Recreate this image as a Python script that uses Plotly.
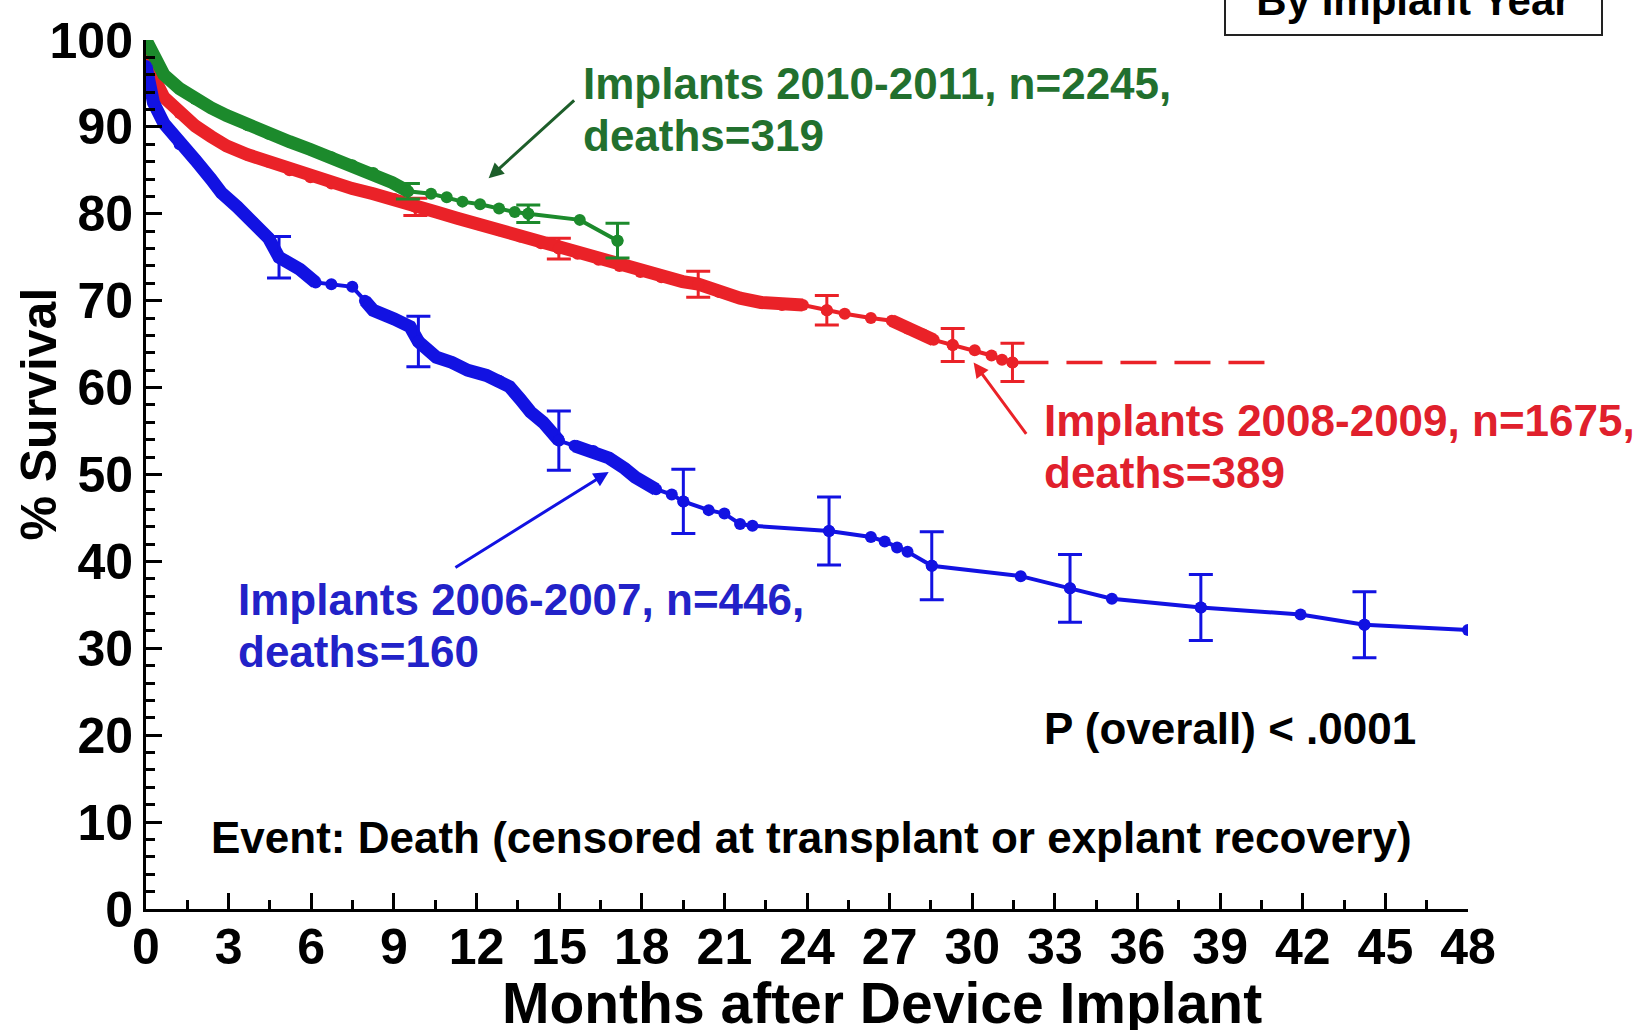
import plotly.graph_objects as go

# ---------------- data ----------------
green_t = [0, 0.27, 0.65, 1.22, 1.79, 2.36, 2.93, 3.69, 4.45, 5.21, 5.97, 6.73, 7.49, 8.25, 8.94,
           9.51, 10.35, 10.92, 11.49, 12.13, 12.82, 13.39, 13.88, 15.75, 17.12]
green_s = [100, 98.2, 96.0, 94.4, 93.2, 92.2, 91.3, 90.2, 89.2, 88.3, 87.4, 86.5, 85.6, 84.7, 83.6,
           82.6, 82.3, 81.9, 81.4, 81.1, 80.6, 80.2, 80.0, 79.3, 76.9]
green_err_t = [9.51, 13.88, 17.12]
green_err_s = [82.6, 80.0, 76.9]
green_err = [0.9, 1.0, 2.0]

red_t = [0, 0.27, 0.65, 1.22, 1.79, 2.36, 2.93, 3.69, 4.45, 5.21, 5.97, 6.73, 7.49, 8.25, 9.01,
         9.78, 10.54, 11.30, 12.06, 12.82, 13.58, 14.34, 14.99, 15.67, 16.43, 17.19, 17.95, 18.71,
         19.48, 20.05, 20.81, 21.57, 22.33, 23.09, 23.85, 24.72, 25.37, 26.32, 27.08, 27.65, 28.22,
         28.60, 29.29, 30.09, 30.70, 31.08, 31.46]
red_s = [98.5, 95.8, 93.4, 91.6, 90.1, 88.9, 87.8, 86.8, 86.0, 85.0, 84.2, 83.5, 82.9, 82.3, 81.7,
         80.8, 80.2, 79.5, 78.8, 78.1, 77.4, 76.6, 76.0, 75.4, 74.7, 74.0, 73.3, 72.7,
         72.2, 71.9, 71.0, 70.3, 69.8, 69.5, 69.5, 68.9, 68.5, 68.0, 67.7, 66.8, 66.1,
         65.5, 64.9, 64.3, 63.7, 63.2, 62.9]
red_err_t = [9.78, 14.99, 20.05, 24.72, 29.29, 31.46]
red_err_s = [80.8, 76.0, 71.9, 68.9, 64.9, 62.9]
red_err = [1.0, 1.2, 1.5, 1.7, 1.9, 2.2]
red_tail_t = [31.46, 41.16]
red_tail_s = [62.9, 62.9]

blue_t = [0, 0.27, 0.65, 1.22, 1.79, 2.36, 2.74, 3.31, 3.88, 4.45, 4.83, 5.59, 6.16, 6.73, 7.49,
          7.95, 8.25, 9.01, 9.59, 9.89, 10.54, 11.11, 11.68, 12.36, 12.82, 13.20, 13.58, 13.96,
          14.42, 14.99, 15.56, 16.24, 16.81, 17.38, 17.76, 18.52, 19.09, 19.51, 20.43, 21.00,
          21.57, 22.02, 24.80, 26.32, 26.82, 27.27, 27.65, 28.53, 31.76, 33.55, 35.07, 38.30,
          41.92, 44.24, 48.0]
blue_s = [97.0, 92.8, 90.4, 88.0, 86.2, 84.0, 82.4, 80.8, 79.0, 77.2, 75.0, 73.6, 72.1, 71.9, 71.6,
          70.0, 68.9, 67.9, 67.0, 65.3, 63.5, 62.9, 62.0, 61.4, 60.8, 60.1, 58.7, 57.2,
          56.0, 53.9, 53.3, 52.7, 51.9, 50.7, 49.7, 48.3, 47.7, 46.9, 45.9, 45.5,
          44.3, 44.1, 43.5, 42.8, 42.3, 41.6, 41.1, 39.5, 38.3, 36.9, 35.7, 34.7,
          33.9, 32.7, 32.1]
blue_err_t = [4.83, 9.89, 14.99, 19.51, 24.80, 28.53, 33.55, 38.30, 44.24]
blue_err_s = [75.0, 65.3, 53.9, 46.9, 43.5, 39.5, 36.9, 34.7, 32.7]
blue_err = [2.4, 2.9, 3.4, 3.7, 3.9, 3.9, 3.9, 3.8, 3.8]

x_ticks = list(range(0, 49, 3))
y_ticks = list(range(0, 101, 10))

green_label = ["Implants 2010-2011, n=2245,", "deaths=319"]
red_label = ["Implants 2008-2009, n=1675,", "deaths=389"]
blue_label = ["Implants 2006-2007, n=446,", "deaths=160"]
p_text = "P (overall) < .0001"
event_text = "Event: Death (censored at transplant or explant recovery)"
box_text = "By Implant Year"
x_title = "Months after Device Implant"
y_title = "% Survival"

# ---------------- styling ----------------
GREEN, GREEN_TXT = "#1c8a2c", "#22702e"
RED, RED_TXT = "#ea2228", "#e0202c"
BLUE, BLUE_TXT = "#1212e2", "#2222c8"
FONT = "Liberation Sans, Arial, Helvetica, sans-serif"
# time windows where the original curve is drawn as a dense, thick band of censor marks
GREEN_DENSE = [(0, 9.6)]
RED_DENSE = [(0, 23.9), (26.9, 28.7)]
BLUE_DENSE = [(0, 6.2), (7.9, 15.0), (15.5, 18.6)]

fig = go.Figure()


def add_series(t, s, et, es, ee, color, dense):
    fig.add_trace(go.Scatter(x=t, y=s, mode="lines+markers",
                             line=dict(color=color, width=4),
                             marker=dict(color=color, size=12),
                             showlegend=False, hoverinfo="skip"))
    for lo, hi in dense:
        seg = [(a, b) for a, b in zip(t, s) if lo <= a <= hi]
        fig.add_trace(go.Scatter(x=[p[0] for p in seg], y=[p[1] for p in seg], mode="lines",
                                 line=dict(color=color, width=13),
                                 showlegend=False, hoverinfo="skip"))
    fig.add_trace(go.Scatter(x=et, y=es, mode="markers",
                             marker=dict(color=color, size=12),
                             error_y=dict(type="data", array=ee, visible=True,
                                          color=color, thickness=3, width=12),
                             showlegend=False, hoverinfo="skip"))


add_series(red_t, red_s, red_err_t, red_err_s, red_err, RED, RED_DENSE)
fig.add_trace(go.Scatter(x=red_tail_t, y=red_tail_s, mode="lines",
                         line=dict(color=RED, width=3.5, dash="36px,18px"),
                         showlegend=False, hoverinfo="skip"))
add_series(green_t, green_s, green_err_t, green_err_s, green_err, GREEN, GREEN_DENSE)
add_series(blue_t, blue_s, blue_err_t, blue_err_s, blue_err, BLUE, BLUE_DENSE)

ann = []


def label(lines, x, y0, dy, color):
    for i, txt in enumerate(lines):
        ann.append(dict(x=x, y=y0 - i * dy, xref="x", yref="y", text="<b>" + txt + "</b>",
                        showarrow=False, xanchor="left", yanchor="middle",
                        font=dict(family=FONT, size=44, color=color)))


label(green_label, 15.8, 95.0, 6.0, GREEN_TXT)
label(red_label, 32.55, 56.2, 6.0, RED_TXT)
label(blue_label, 3.27, 35.6, 6.0, BLUE_TXT)


def arrow(tip, tail, color):
    ann.append(dict(x=tip[0], y=tip[1], ax=tail[0], ay=tail[1], xref="x", yref="y",
                    axref="x", ayref="y", text="", showarrow=True, arrowhead=2,
                    arrowsize=1.0, arrowwidth=3, arrowcolor=color, standoff=0))


arrow((12.44, 84.1), (15.6, 93.2), "#1d5e2a")
arrow((30.05, 62.9), (32.0, 54.5), RED)
arrow((16.8, 50.3), (11.18, 39.2), BLUE)

ann.append(dict(x=32.55, y=20.8, xref="x", yref="y", text="<b>" + p_text + "</b>",
                showarrow=False, xanchor="left", yanchor="middle",
                font=dict(family=FONT, size=44, color="black")))
ann.append(dict(x=2.3, y=8.2, xref="x", yref="y", text="<b>" + event_text + "</b>",
                showarrow=False, xanchor="left", yanchor="middle",
                font=dict(family=FONT, size=44, color="black")))
ann.append(dict(x=0.9588, y=1.0046, xref="paper", yref="paper", text="<b>" + box_text + "</b>",
                showarrow=False, xanchor="center", yanchor="bottom", width=355,
                bordercolor="#222", borderwidth=2, borderpad=10, bgcolor="white",
                font=dict(family=FONT, size=42, color="black")))
ann.append(dict(x=0.557, y=-0.1085, xref="paper", yref="paper",
                text="<b>" + x_title + "</b>", showarrow=False,
                xanchor="center", yanchor="middle",
                font=dict(family=FONT, size=57, color="black")))
ann.append(dict(x=-0.081, y=0.57, xref="paper", yref="paper", text="<b>" + y_title + "</b>",
                showarrow=False, xanchor="center", yanchor="middle", textangle=-90,
                font=dict(family=FONT, size=50, color="black")))

fig.update_layout(
    width=1638, height=1030,
    margin=dict(l=146, r=170, t=35, b=121),
    paper_bgcolor="white", plot_bgcolor="white",
    annotations=ann,
    font=dict(family=FONT, color="black"),
)
axis_common = dict(ticks="inside", ticklen=16, tickwidth=3, tickcolor="black",
                   showline=True, linewidth=3, linecolor="black", showgrid=False,
                   zeroline=False, tickfont=dict(family=FONT, size=50, color="black"))
fig.update_xaxes(range=[0, 48], tickvals=x_ticks, ticktext=[f"<b>{v}</b>" for v in x_ticks],
                 minor=dict(dtick=1.5, tick0=0, ticks="inside", ticklen=9, tickwidth=3,
                            tickcolor="black"),
                 ticklabelstandoff=-8, **axis_common)
fig.update_yaxes(range=[0, 100], tickvals=y_ticks, ticktext=[f"<b>{v}</b>" for v in y_ticks],
                 minor=dict(dtick=2, tick0=0, ticks="inside", ticklen=9, tickwidth=3,
                            tickcolor="black"),
                 **axis_common)

fig.write_html("out.html", config={"displayModeBar": False},
               post_script="document.body.style.margin='0';")
